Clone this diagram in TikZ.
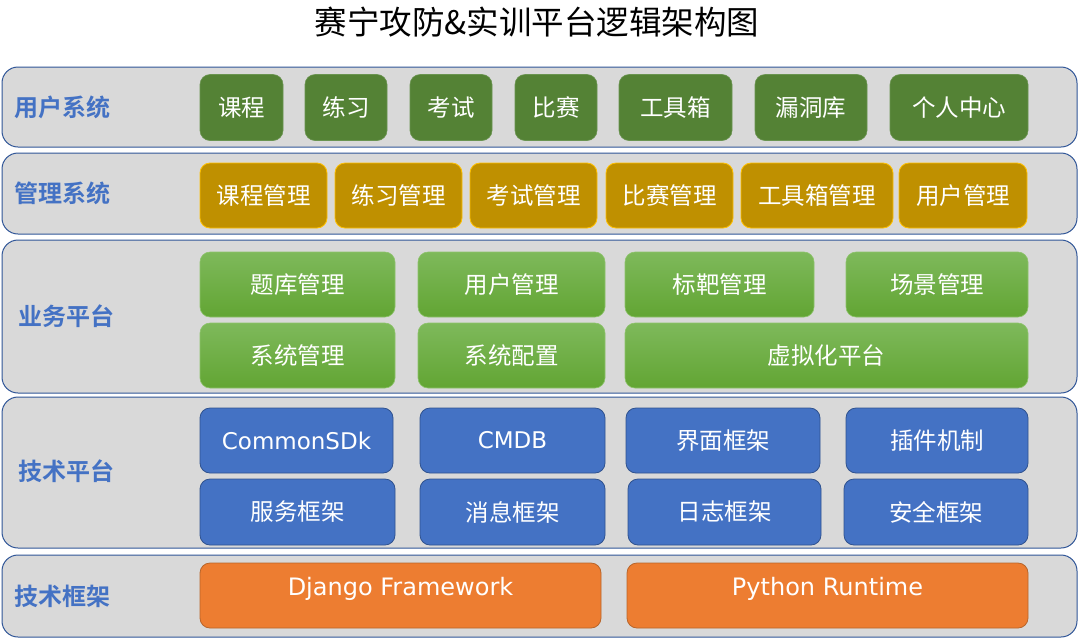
\documentclass[tikz,border=0pt]{standalone}
\usepackage{fontspec}
\setmainfont{DejaVu Sans}
\newfontfamily\cjk{Noto Sans CJK SC}[BoldFont={Noto Sans CJK SC Bold}]
\definecolor{layerfill}{HTML}{D9D9D9}
\definecolor{layerline}{HTML}{2F5597}
\definecolor{labblue}{HTML}{4472C4}
\definecolor{darkgreen}{HTML}{548235}
\definecolor{darkgreenline}{HTML}{6A9450}
\definecolor{gold}{HTML}{BF9000}
\definecolor{goldline}{HTML}{FFC000}
\definecolor{gtop}{HTML}{7EB95B}
\definecolor{gbot}{HTML}{62A533}
\definecolor{gline}{HTML}{8DC36B}
\definecolor{blueline}{HTML}{2F528F}
\definecolor{orange}{HTML}{ED7D31}
\definecolor{orangeline}{HTML}{B8652A}

\begin{document}
\begin{tikzpicture}[x=1pt, y=-1pt,
    layer/.style={draw=layerline, fill=layerfill, line width=1pt, rounded corners=16pt, minimum width=1075pt},
    lab/.style={text=labblue, font=\cjk\bfseries\fontsize{24}{24}\selectfont},
    blk/.style={rounded corners=10pt, text=white, font=\cjk\fontsize{23.5}{23.5}\selectfont, inner sep=0pt},
    ubox/.style={blk, fill=darkgreen, draw=darkgreenline, line width=0.6pt, minimum height=66pt},
    mbox/.style={blk, fill=gold, draw=goldline, line width=0.8pt, minimum height=65pt},
    gbox/.style={blk, top color=gtop, bottom color=gbot, draw=gline, line width=0.6pt, minimum height=65pt},
    bbox/.style={blk, fill=labblue, draw=blueline, line width=0.8pt, minimum height=65pt},
    obox/.style={blk, fill=orange, draw=orangeline, line width=0.8pt, minimum height=65pt, font=\fontsize{24}{24}\selectfont}]
    \useasboundingbox (0,0) rectangle (1079,638);

    \node (title) at (537,22) {\cjk\fontsize{32.5}{32.5}\selectfont 赛宁攻防\&实训平台逻辑架构图};

    \node[layer, minimum height=80pt] (user) at (539.5,107) {};
    \node[layer, minimum height=81pt] (mgmt) at (539.5,193.5) {};
    \node[layer, minimum height=153pt] (biz) at (539.5,316.5) {};
    \node[layer, minimum height=151pt] (tech) at (539.5,472.5) {};
    \node[layer, minimum height=82pt] (frame) at (539.5,596) {};

    \node[lab] (userlab) at (62,107) {用户系统};
    \node[lab] (mgmtlab) at (62,193) {管理系统};
    \node[lab] (bizlab) at (66,316) {业务平台};
    \node[lab] (techlab) at (66,471) {技术平台};
    \node[lab] (framelab) at (62,596) {技术框架};

    \node[ubox, minimum width=83pt] (course) at (241.5,107.5) {课程};
    \node[ubox, minimum width=82pt] (practice) at (346,107.5) {练习};
    \node[ubox, minimum width=82pt] (exam) at (451,107.5) {考试};
    \node[ubox, minimum width=82pt] (contest) at (556,107.5) {比赛};
    \node[ubox, minimum width=113pt] (toolbox) at (675.5,107.5) {工具箱};
    \node[ubox, minimum width=112pt] (vulndb) at (811,107.5) {漏洞库};
    \node[ubox, minimum width=138pt] (profile) at (959,107.5) {个人中心};

    \node[mbox, minimum width=127pt] (coursem) at (263.5,195.5) {课程管理};
    \node[mbox, minimum width=127pt] (practicem) at (398.5,195.5) {练习管理};
    \node[mbox, minimum width=127pt] (examm) at (533.5,195.5) {考试管理};
    \node[mbox, minimum width=127pt] (contestm) at (669.5,195.5) {比赛管理};
    \node[mbox, minimum width=152pt] (toolboxm) at (817,195.5) {工具箱管理};
    \node[mbox, minimum width=128pt] (userm) at (963,195.5) {用户管理};

    \node[gbox, minimum width=195pt] (qbank) at (297.5,284.5) {题库管理};
    \node[gbox, minimum width=187pt] (bizuser) at (511.5,284.5) {用户管理};
    \node[gbox, minimum width=189pt] (target) at (719.5,284.5) {标靶管理};
    \node[gbox, minimum width=182pt] (scene) at (937,284.5) {场景管理};
    \node[gbox, minimum width=195pt] (sysm) at (297.5,355.5) {系统管理};
    \node[gbox, minimum width=187pt] (syscfg) at (511.5,355.5) {系统配置};
    \node[gbox, minimum width=403pt] (virt) at (826.5,355.5) {虚拟化平台};

    \node[bbox, minimum width=193pt, font=\fontsize{23}{23}\selectfont] (sdk) at (296.5,440.5) {CommonSDk};
    \node[bbox, minimum width=185pt, font=\fontsize{23}{23}\selectfont] (cmdb) at (512.5,440.5) {CMDB};
    \node[bbox, minimum width=194pt] (ui) at (723,440.5) {界面框架};
    \node[bbox, minimum width=182pt] (plugin) at (937,440.5) {插件机制};
    \node[bbox, minimum width=195pt, minimum height=66pt] (service) at (297.5,512) {服务框架};
    \node[bbox, minimum width=185pt, minimum height=66pt] (msg) at (512.5,512) {消息框架};
    \node[bbox, minimum width=193pt, minimum height=66pt] (log) at (724.5,512) {日志框架};
    \node[bbox, minimum width=184pt, minimum height=66pt] (sec) at (936,512) {安全框架};

    \node[obox, minimum width=401pt] (django) at (400.5,595.5) {\raisebox{19pt}{Django Framework}};
    \node[obox, minimum width=401pt] (python) at (827.5,595.5) {\raisebox{19pt}{Python Runtime}};
\end{tikzpicture}
\end{document}
